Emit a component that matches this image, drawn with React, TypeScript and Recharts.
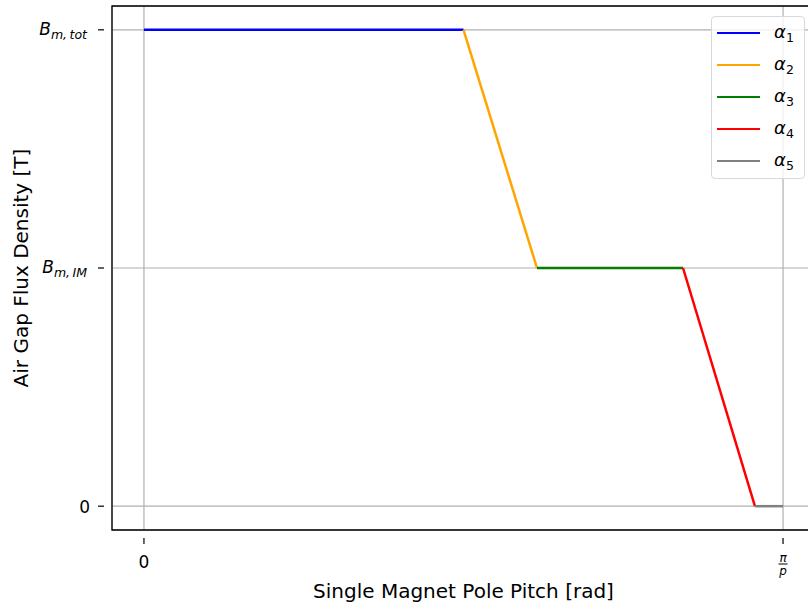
import { LineChart, Line, XAxis, YAxis, CartesianGrid, ReferenceArea } from "recharts"

// breakpoints of the piecewise flux density profile (x in units of pi/p)
const breakX = [0, 0.5, 0.615, 0.8435, 0.956, 1.0]
const breakY = [2, 2, 1, 1, 0, 0]
const seriesNames = ["α1", "α2", "α3", "α4", "α5"]
const seriesColors = ["#0000ff", "#ffa500", "#008000", "#ff0000", "#808080"]
const xTicks = [0, 1]
const yTicks = [0, 1, 2]

const segments = seriesNames.map((name, i) => ({
  name,
  color: seriesColors[i],
  data: [
    { x: breakX[i], y: breakY[i] },
    { x: breakX[i + 1], y: breakY[i + 1] },
  ],
}))

const font = "DejaVu Sans, sans-serif"

function YTick(props: any) {
  const { x, y, payload } = props
  const v = payload.value
  const ax = x
  let label: any = null
  if (v === 0) {
    label = (
      <text x={ax - 14} y={y} dy={6.5} textAnchor="end" fontSize={17} fontFamily={font} fill="#000">0</text>
    )
  } else {
    const sub = v === 2 ? "m,\u2009tot" : "m,\u2009IM"
    label = (
      <text x={ax - 17} y={y} dy={5} textAnchor="end" fontSize={17} fontFamily={font} fill="#000" fontStyle="italic">
        B<tspan fontSize={12.5} dy={4}>{sub}</tspan>
      </text>
    )
  }
  return (
    <g>
      <line x1={ax - 6} x2={ax} y1={y} y2={y} stroke="#000" strokeWidth={1.2} />
      {label}
    </g>
  )
}

function XTick(props: any) {
  const { x, y, payload } = props
  const v = payload.value
  return (
    <g>
      <line x1={x} x2={x} y1={y} y2={y + 6} stroke="#000" strokeWidth={1.2} />
      {v === 0 ? (
        <text x={x} y={y + 30} textAnchor="middle" fontSize={17} fontFamily={font} fill="#000">0</text>
      ) : (
        <g>
          <text x={x} y={y + 24} textAnchor="middle" fontSize={12} fontFamily={font} fontStyle="italic" fill="#000">π</text>
          <line x1={x - 4.5} x2={x + 4.5} y1={y + 26} y2={y + 26} stroke="#000" strokeWidth={1} />
          <text x={x} y={y + 37} textAnchor="middle" fontSize={12} fontFamily={font} fontStyle="italic" fill="#000">p</text>
        </g>
      )}
    </g>
  )
}

function LegendBox() {
  return (
    <div
      style={{
        position: "absolute",
        left: 711,
        top: 16,
        width: 94,
        height: 163,
        border: "1px solid #d9d9d9",
        borderRadius: 4,
        background: "rgba(255,255,255,0.8)",
        boxSizing: "border-box",
        fontFamily: font,
        paddingTop: 0,
      }}
    >
      {segments.map((s, i) => (
        <div key={s.name} style={{ display: "flex", alignItems: "center", height: 32 }}>
          <div style={{ width: 43, height: 2.5, background: s.color, marginLeft: 5 }} />
          <div style={{ marginLeft: 14, fontSize: 18, fontStyle: "italic", color: "#000", lineHeight: "20px" }}>
            α<span style={{ fontSize: 12.5, fontStyle: "normal", position: "relative", top: 4 }}>{i + 1}</span>
          </div>
        </div>
      ))}
    </div>
  )
}

export default function App() {
  return (
    <div style={{ position: "absolute", left: 0, top: 0, width: 808, height: 605, overflow: "hidden", background: "#fff" }}>
      <LineChart width={830} height={605} margin={{ top: 6, right: 15, bottom: 0, left: 0 }}>
        <CartesianGrid stroke="#b0b0b0" strokeWidth={1.2} />
        <XAxis
          type="number"
          dataKey="x"
          domain={[-0.05, 1.05]}
          ticks={xTicks}
          allowDataOverflow
          height={75}
          axisLine={false}
          tickLine={false}
          tick={<XTick />}
          label={{ value: "Single Magnet Pole Pitch [rad]", position: "insideBottom", offset: 7, fontSize: 20, fontFamily: font, fill: "#000" }}
        />
        <YAxis
          type="number"
          dataKey="y"
          domain={[-0.1, 2.1]}
          ticks={yTicks}
          allowDataOverflow
          width={112}
          axisLine={false}
          tickLine={false}
          tick={<YTick />}
          label={{ value: "Air Gap Flux Density [T]", angle: -90, position: "insideLeft", offset: 21, fontSize: 20, fontFamily: font, fill: "#000", style: { textAnchor: "middle" } }}
        />
        <ReferenceArea x1={-0.05} x2={1.05} y1={-0.1} y2={2.1} fill="none" stroke="#000" strokeWidth={1.3} ifOverflow="visible" />
        {segments.map((s) => (
          <Line
            key={s.name}
            data={s.data}
            dataKey="y"
            name={s.name}
            stroke={s.color}
            strokeWidth={2.5}
            dot={false}
            isAnimationActive={false}
          />
        ))}
      </LineChart>
      <LegendBox />
    </div>
  )
}
